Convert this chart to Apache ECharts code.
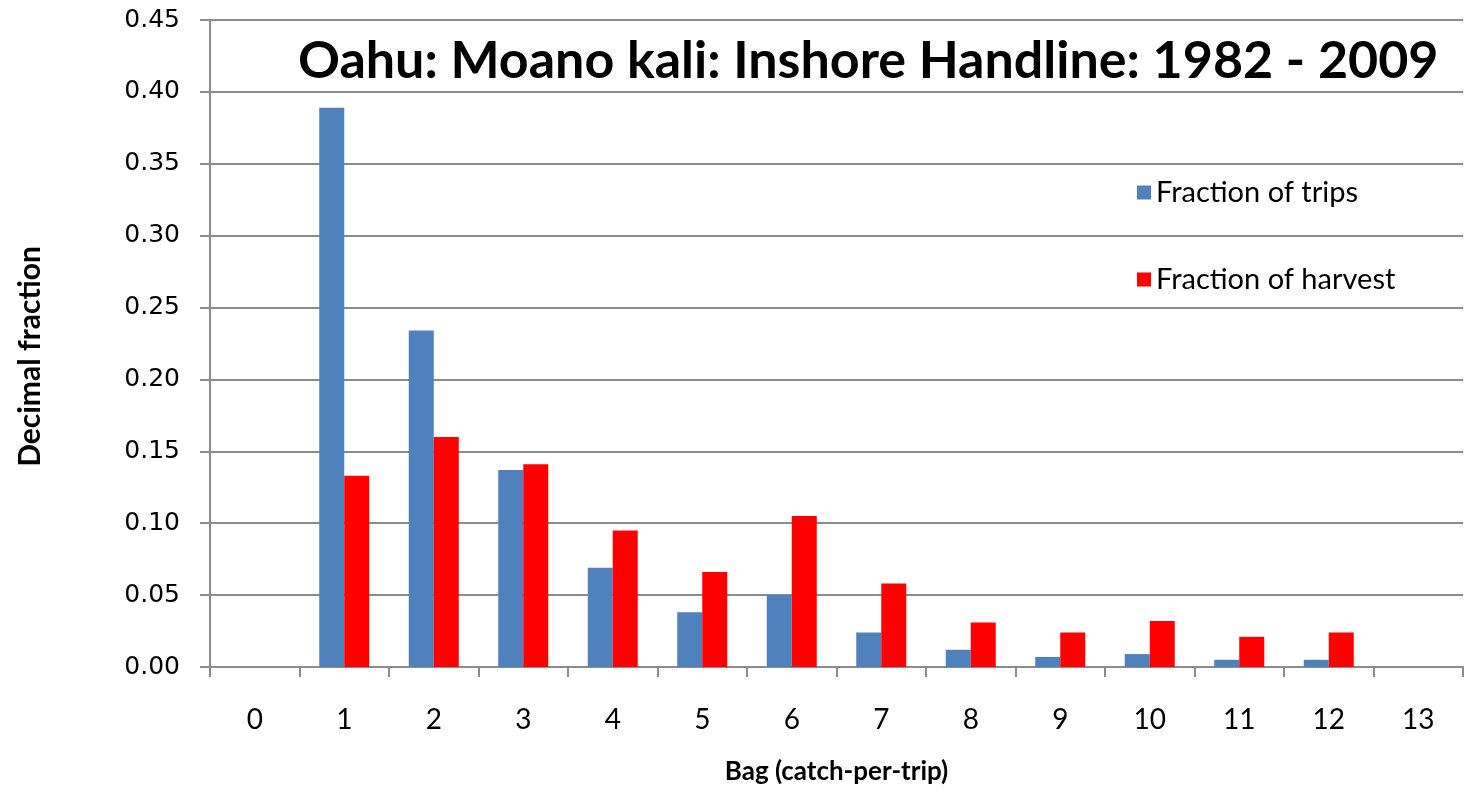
<!DOCTYPE html>
<html>
<head>
<meta charset="utf-8">
<script src="https://cdn.jsdelivr.net/npm/echarts@6/dist/echarts.min.js"></script>
<style>
  html, body { margin: 0; padding: 0; background: #fff; }
  #chart { width: 1465px; height: 794px; }
</style>
</head>
<body>
<div id="chart"></div>
<script>
// bag sizes (catch per trip)
var bags = ['0', '1', '2', '3', '4', '5', '6', '7', '8', '9', '10', '11', '12', '13'];
// fraction of trips
var trips = [0, 0.389, 0.234, 0.137, 0.069, 0.038, 0.050, 0.024, 0.012, 0.007, 0.009, 0.005, 0.005, 0];
// fraction of harvest
var harvest = [0, 0.133, 0.160, 0.141, 0.095, 0.066, 0.105, 0.058, 0.031, 0.024, 0.032, 0.021, 0.024, 0];

var myChart = echarts.init(document.getElementById('chart'));

var axisGrey = '#8c8c8c';

var option = {
  animation: false,
  title: {
    text: 'Oahu: Moano kali: Inshore Handline: 1982 - 2009',
    left: 293,
    top: 30,
    textStyle: { fontFamily: 'Lato', fontWeight: 'bold', fontSize: 52, color: '#000' }
  },
  legend: {
    orient: 'vertical',
    left: 1132,
    top: 173,
    itemGap: 58,
    itemWidth: 14,
    itemHeight: 14,
    icon: 'rect',
    textStyle: { fontFamily: 'Lato', fontSize: 29, color: '#000' },
    data: ['Fraction of trips', 'Fraction of harvest']
  },
  grid: { left: 210, right: 2, top: 20, bottom: 127, containLabel: false, outerBoundsMode: 'none' },
  xAxis: {
    type: 'category',
    data: bags,
    name: 'Bag (catch-per-trip)',
    nameLocation: 'middle',
    nameGap: 92,
    nameTextStyle: { fontFamily: 'Lato', fontWeight: 'bold', fontSize: 26, color: '#000' },
    axisLine: { lineStyle: { color: axisGrey, width: 2 } },
    axisTick: { show: true, length: 10, lineStyle: { color: axisGrey, width: 2 } },
    axisLabel: { fontFamily: 'Lato', fontSize: 28, color: '#000', margin: 39 }
  },
  yAxis: {
    type: 'value',
    min: 0,
    max: 0.45,
    interval: 0.05,
    name: 'Decimal fraction',
    nameLocation: 'middle',
    nameGap: 165,
    nameTextStyle: {
      fontFamily: 'Lato', fontWeight: 'bold', fontSize: 30, color: '#000',
      padding: [0, 26, 0, 0]
    },
    axisLine: { show: true, lineStyle: { color: axisGrey, width: 2 } },
    axisTick: { show: true, length: 10, lineStyle: { color: axisGrey, width: 2 } },
    axisLabel: {
      fontFamily: 'DejaVu Sans', fontSize: 25, color: '#000', margin: 30,
      formatter: function (v) { return v.toFixed(2); }
    },
    splitLine: { lineStyle: { color: axisGrey, width: 2 } }
  },
  series: [
    {
      name: 'Fraction of trips',
      type: 'bar',
      data: trips,
      barWidth: 25,
      barGap: '0%',
      itemStyle: { color: '#4F81BD' }
    },
    {
      name: 'Fraction of harvest',
      type: 'bar',
      data: harvest,
      barWidth: 25,
      itemStyle: { color: '#FF0000' }
    }
  ]
};

myChart.setOption(option);
</script>
</body>
</html>
